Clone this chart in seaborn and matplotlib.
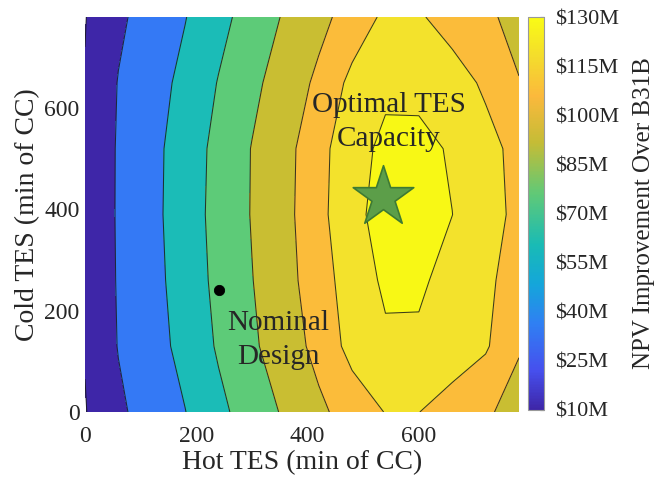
import numpy as np
import matplotlib
matplotlib.use('Agg')
import matplotlib.pyplot as plt
import seaborn as sns
from matplotlib.colors import LinearSegmentedColormap, Normalize
from matplotlib.cm import ScalarMappable

# Grid of the design space (min of CC)
hot_tes = [0, 60, 120, 180, 240, 300, 360, 420, 480, 540, 600, 660, 720, 780]
cold_tes = [0, 130, 260, 390, 520, 650, 780]

# NPV improvement ($M), one list per cold TES row
npv_cold_0 = [9.3, 22.4, 31.5, 39.7, 51.4, 62.0, 72.0, 82.0, 91.4, 100.5, 100.2, 93.5, 86.7, 80.3]
npv_cold_130 = [10.7, 25.6, 34.3, 44.4, 56.7, 67.8, 77.7, 89.4, 105.0, 112.5, 112.5, 108.0, 101.8, 86.0]
npv_cold_260 = [11.5, 26.2, 35.4, 46.5, 58.8, 69.6, 79.7, 93.6, 106.9, 117.5, 117.3, 110.0, 102.7, 94.0]
npv_cold_390 = [11.8, 26.5, 36.1, 47.7, 59.8, 70.7, 80.7, 96.1, 109.9, 122.1, 121.0, 115.1, 105.8, 96.4]
npv_cold_520 = [11.5, 26.4, 35.9, 47.1, 59.2, 70.5, 80.3, 95.1, 109.6, 118.2, 119.0, 113.5, 104.6, 95.7]
npv_cold_650 = [10.6, 25.6, 34.1, 43.8, 55.7, 66.7, 76.8, 87.9, 104.0, 112.0, 111.0, 106.0, 97.8, 85.5]
npv_cold_780 = [9.5, 22.4, 31.4, 39.5, 50.5, 61.3, 71.6, 80.9, 90.9, 103.0, 101.5, 94.3, 87.5, 80.7]

levels = [10, 25, 40, 55, 70, 85, 100, 115, 130]
cbar_labels = ['$10M', '$25M', '$40M', '$55M', '$70M', '$85M', '$100M', '$115M', '$130M']

# marked designs
nominal_hot, nominal_cold = [240], [240]
optimal_hot, optimal_cold = [535], [425]

# colours
band_colors = ['#3E26A8', '#3479F5', '#1BBCB7', '#5DCB78', '#C9BE32', '#FBBC3A', '#F3E22C', '#F8F815']
parula = LinearSegmentedColormap.from_list('parula_like', [
    (0.00, '#3E26A8'), (0.10, '#4650EE'), (0.22, '#2F80F3'), (0.32, '#14A6DA'),
    (0.42, '#19BBB5'), (0.55, '#60C977'), (0.68, '#C4BC36'), (0.80, '#FBB93C'),
    (0.90, '#F4DC2C'), (1.00, '#F9FB15')])

sns.set_style('white')
plt.rcParams['font.family'] = ['Liberation Serif', 'DejaVu Serif']

Z = np.array([npv_cold_0, npv_cold_130, npv_cold_260, npv_cold_390,
              npv_cold_520, npv_cold_650, npv_cold_780])

fig = plt.figure(figsize=(6.65, 4.8), dpi=100)
ax = fig.add_axes([85 / 665, 1 - 412 / 480, 434 / 665, 395 / 480])

ax.contourf(hot_tes, cold_tes, Z, levels=levels, colors=band_colors)
ax.contour(hot_tes, cold_tes, Z, levels=levels, colors='#1a1a1a', linewidths=0.75, alpha=0.85)

sns.scatterplot(x=nominal_hot, y=nominal_cold, ax=ax, color='black', s=55, edgecolor='black', zorder=5)
sns.scatterplot(x=optimal_hot, y=optimal_cold, ax=ax, marker='*', s=2100, color='#5C9E49',
                edgecolor='#3E7A33', linewidth=1.2, zorder=5)

ax.text(546, 572, 'Optimal TES\nCapacity', ha='center', va='center', fontsize=21, linespacing=1.4)
ax.text(348, 143, 'Nominal\nDesign', ha='center', va='center', fontsize=21, linespacing=1.4)

ax.set_xlim(0, 780)
ax.set_ylim(0, 780)
ax.set_xticks([0, 200, 400, 600])
ax.set_yticks([0, 200, 400, 600])
ax.tick_params(labelsize=17, length=0, pad=4)
ax.tick_params(axis='x', pad=10)
ax.set_xlabel('Hot TES (min of CC)', fontsize=20, labelpad=2)
ax.set_ylabel('Cold TES (min of CC)', fontsize=20, labelpad=3)
for s in ax.spines.values():
    s.set_visible(False)

# continuous colour bar
cax = fig.add_axes([528 / 665, 1 - 410 / 480, 16 / 665, 393 / 480])
sm = ScalarMappable(norm=Normalize(10, 130), cmap=parula)
cbar = fig.colorbar(sm, cax=cax, ticks=levels)
cbar.ax.set_yticklabels([l.replace('$', r'\$') for l in cbar_labels])
cbar.ax.tick_params(labelsize=16, direction='in', length=3, width=0.8, color='#333333', pad=8)
cbar.outline.set_edgecolor('#999999')
cbar.outline.set_linewidth(0.8)
cbar.set_label('NPV Improvement Over B31B', fontsize=18, labelpad=10)

fig.savefig('out.png', dpi=100)
